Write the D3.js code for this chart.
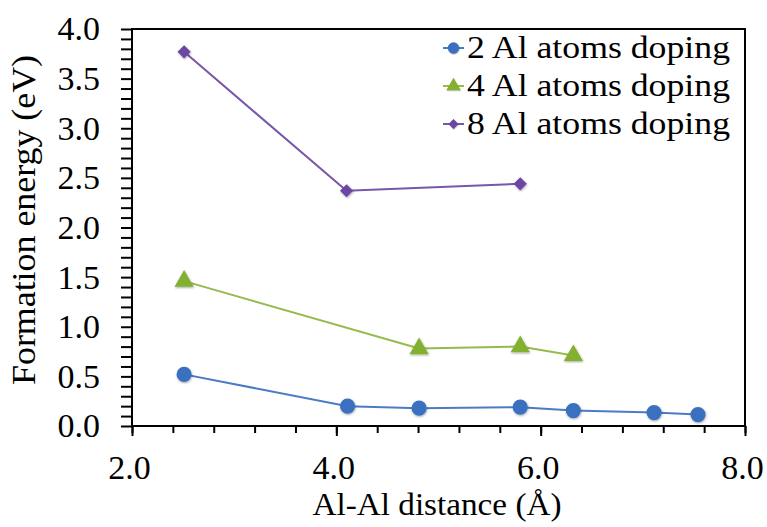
<!DOCTYPE html>
<html>
<head>
<meta charset="utf-8">
<script src="https://cdn.jsdelivr.net/npm/d3@7"></script>
<style>
  html, body { margin: 0; padding: 0; background: #fff; }
  svg text { font-family: "Liberation Serif", "Times New Roman", serif; fill: #000; }
</style>
</head>
<body>
<svg id="chart" width="767" height="527"></svg>
<script>
// data
var seriesNames = ["2 Al atoms doping", "4 Al atoms doping", "8 Al atoms doping"];
var al2X = [2.51, 4.11, 4.81, 5.80, 6.32, 7.11, 7.54];
var al2Y = [0.52, 0.20, 0.18, 0.19, 0.155, 0.135, 0.115];
var al4X = [2.51, 4.81, 5.80, 6.32];
var al4Y = [1.46, 0.78, 0.80, 0.71];
var al8X = [2.51, 4.10, 5.80];
var al8Y = [3.77, 2.37, 2.44];
var xTicks = [2.0, 4.0, 6.0, 8.0];
var yTicks = [0.0, 0.5, 1.0, 1.5, 2.0, 2.5, 3.0, 3.5, 4.0];

var margin = { top: 29, right: 22, bottom: 101, left: 132 },
	width = 767 - margin.left - margin.right,
	height = 527 - margin.top - margin.bottom;

var series = [
	{ name: seriesNames[0], xs: al2X, ys: al2Y, line: "#4a7cc4", fill: "#3a70c0", shape: "circle" },
	{ name: seriesNames[1], xs: al4X, ys: al4Y, line: "#94bb4c", fill: "#84b032", shape: "triangle" },
	{ name: seriesNames[2], xs: al8X, ys: al8Y, line: "#7856aa", fill: "#6c46a2", shape: "diamond" },
];

function marker(shape) {
	if (shape === "circle") return d3.symbol().type(d3.symbolCircle).size(180)();
	if (shape === "triangle") return d3.symbol().type(d3.symbolTriangle).size(160)();
	return d3.symbol().type(d3.symbolDiamond2).size(110)();
}

function draw() {
	var svg = d3.select("#chart");

	var defs = svg.append("defs");
	var f = defs.append("filter").attr("id", "shadow").attr("x", "-50%").attr("y", "-50%").attr("width", "200%").attr("height", "200%");
	f.append("feDropShadow").attr("dx", 0.5).attr("dy", 1).attr("stdDeviation", 1).attr("flood-opacity", 0.35);

	var g = svg.append("g").attr("transform", "translate(" + margin.left + "," + margin.top + ")");

	var x = d3.scaleLinear().domain([2, 8]).range([0, width]);
	var y = d3.scaleLinear().domain([0, 4]).range([height, 0]);

	// x axis: minor ticks every 0.4, major at labelled values
	var xMinor = d3.range(0, 16).map(function (i) { return 2 + i * 0.4; });
	g.append("g")
		.attr("transform", "translate(0," + height + ")")
		.call(d3.axisBottom(x).tickValues(xMinor).tickSize(7).tickFormat(""))
		.call(function (a) {
			a.select(".domain").remove();
			a.selectAll("line").attr("stroke", "#000").attr("stroke-width", 2);
		});
	g.append("g")
		.attr("transform", "translate(0," + height + ")")
		.call(d3.axisBottom(x).tickValues(xTicks).tickSize(10).tickPadding(19).tickFormat(d3.format(".1f")))
		.call(function (a) {
			a.select(".domain").remove();
			a.attr("font-family", null);
			a.selectAll("line").attr("stroke", "#000").attr("stroke-width", 2);
			a.selectAll("text").attr("font-size", 34).attr("dx", -3);
		});

	// y axis: ticks every 0.1
	var yMinor = d3.range(0, 41).map(function (i) { return i / 10; });
	g.append("g")
		.call(d3.axisLeft(y).tickValues(yMinor).tickSize(11).tickFormat(""))
		.call(function (a) {
			a.select(".domain").remove();
			a.selectAll("line").attr("stroke", "#000").attr("stroke-width", 2);
		});
	g.append("g")
		.call(d3.axisLeft(y).tickValues(yTicks).tickSize(0).tickPadding(32).tickFormat(d3.format(".1f")))
		.call(function (a) {
			a.select(".domain").remove();
			a.attr("font-family", null);
			a.selectAll("text").attr("font-size", 34);
		});

	// frame
	g.append("rect")
		.attr("x", 0).attr("y", 0)
		.attr("width", width).attr("height", height)
		.attr("fill", "none").attr("stroke", "#000").attr("stroke-width", 2);

	// series
	var line = d3.line()
		.x(function (d) { return x(d[0]); })
		.y(function (d) { return y(d[1]); });

	series.forEach(function (s) {
		var pts = s.xs.map(function (v, i) { return [v, s.ys[i]]; });
		g.append("path")
			.datum(pts)
			.attr("d", line)
			.attr("fill", "none")
			.attr("stroke", s.line)
			.attr("stroke-width", 2);
		g.append("g")
			.selectAll("path")
			.data(pts)
			.enter()
			.append("path")
			.attr("d", marker(s.shape))
			.attr("transform", function (d) { return "translate(" + x(d[0]) + "," + y(d[1]) + ")"; })
			.attr("fill", s.fill)
			.attr("filter", "url(#shadow)");
	});

	// legend
	var leg = svg.append("g");
	series.forEach(function (s, i) {
		var base = 58 + i * 38;
		var cy = base - 10;
		leg.append("line")
			.attr("x1", 443).attr("x2", 464)
			.attr("y1", cy).attr("y2", cy)
			.attr("stroke", s.line).attr("stroke-width", 2);
		leg.append("path")
			.attr("d", marker(s.shape))
			.attr("transform", "translate(453.5," + cy + ") scale(0.75)")
			.attr("fill", s.fill)
			.attr("filter", "url(#shadow)");
		leg.append("text")
			.attr("x", 467)
			.attr("y", base)
			.attr("font-size", 32)
			.attr("textLength", 263)
			.attr("lengthAdjust", "spacingAndGlyphs")
			.text(s.name);
	});

	// axis titles
	svg.append("text")
		.attr("text-anchor", "middle")
		.attr("x", 437)
		.attr("y", 515)
		.attr("font-size", 31)
		.attr("textLength", 249)
		.attr("lengthAdjust", "spacingAndGlyphs")
		.text("Al-Al distance (Å)");

	svg.append("text")
		.attr("text-anchor", "middle")
		.attr("transform", "translate(35,220) rotate(-90)")
		.attr("font-size", 33)
		.attr("textLength", 330)
		.attr("lengthAdjust", "spacingAndGlyphs")
		.text("Formation energy (eV)");
}

draw();
</script>
</body>
</html>
